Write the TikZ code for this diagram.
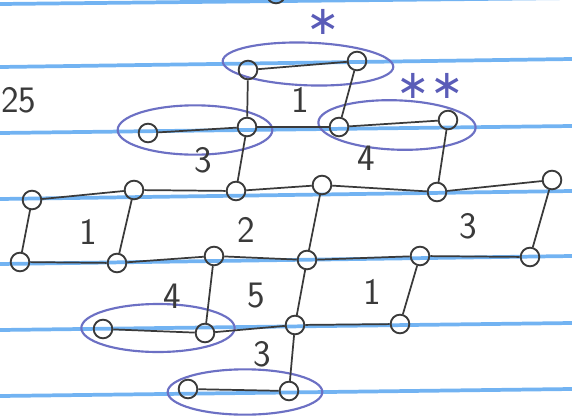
\documentclass[tikz,border=0pt]{standalone}
\usepackage{fontspec}
\newfontfamily\starfont{DejaVu Sans}
\usetikzlibrary{shapes.geometric}
\definecolor{ink}{HTML}{3A3A3A}
\definecolor{loop}{HTML}{6C70C4}
\definecolor{rule}{HTML}{5AA6F0}
\definecolor{star}{HTML}{5A5CB8}
\tikzset{
  vtx/.style={circle,draw=ink,line width=1.4pt,inner sep=0pt,minimum size=14pt},
  edge/.style={draw=ink,line width=1.3pt},
  ring/.style={ellipse,draw=loop,line width=1.6pt,inner sep=0pt},
  ruled/.style={draw=rule,line width=2.8pt,opacity=0.85},
  num/.style={text=ink,font=\sffamily\fontsize{28}{28}\selectfont,inner sep=0pt},
  starlbl/.style={text=star,font=\starfont\fontsize{30}{30}\selectfont,inner sep=0pt}
}
\begin{document}
\begin{tikzpicture}[x=0.75pt,y=-0.75pt]
\useasboundingbox (0,0) rectangle (572,415);
\clip (0,0) rectangle (572,415);
\fill[white] (0,0) rectangle (572,415);
% ruled lines
\draw[ruled] (0,4) -- (572,-2);
\draw[ruled] (0,67) -- (572,59);
\draw[ruled] (0,133) -- (572,126);
\draw[ruled] (0,199) -- (572,191);
\draw[ruled] (0,264) -- (572,256);
\draw[ruled] (0,330) -- (572,323);
\draw[ruled] (0,396) -- (572,389);
% rings
\node[ring,minimum width=128pt,minimum height=32pt,rotate=-2] (rs) at (308,64) {};
\node[ring,minimum width=116pt,minimum height=37pt] (rl) at (195,130) {};
\node[ring,minimum width=118pt,minimum height=37pt,rotate=-2] (rr) at (397,125) {};
\node[ring,minimum width=115pt,minimum height=36pt] (rf) at (158,328) {};
\node[ring,minimum width=116pt,minimum height=34pt] (rg) at (245,392) {};
% vertices
\node[vtx] (top) at (276,-6) {};
\node[vtx] (a1) at (248,70) {};
\node[vtx] (a2) at (357,61) {};
\node[vtx] (b1) at (148,133) {};
\node[vtx] (b2) at (247,127) {};
\node[vtx] (c1) at (339,127) {};
\node[vtx] (c2) at (448,120) {};
\node[vtx] (d1) at (32,200) {};
\node[vtx] (d2) at (134,190) {};
\node[vtx] (d3) at (236,191) {};
\node[vtx] (d4) at (322,185) {};
\node[vtx] (d5) at (437,192) {};
\node[vtx] (d6) at (552,180) {};
\node[vtx] (e1) at (20,262) {};
\node[vtx] (e2) at (117,263) {};
\node[vtx] (e3) at (214,256) {};
\node[vtx] (e4) at (307,260) {};
\node[vtx] (e5) at (420,256) {};
\node[vtx] (e6) at (530,257) {};
\node[vtx] (f1) at (103,329) {};
\node[vtx] (f2) at (205,333) {};
\node[vtx] (f3) at (295,325) {};
\node[vtx] (f4) at (400,324) {};
\node[vtx] (g1) at (188,389) {};
\node[vtx] (g2) at (289,391) {};
% edges
\draw[edge] (a1) -- (a2);
\draw[edge] (a1) -- (b2);
\draw[edge] (a2) -- (c1);
\draw[edge] (b1) -- (b2);
\draw[edge] (b2) -- (c1);
\draw[edge] (c1) -- (c2);
\draw[edge] (b2) -- (d3);
\draw[edge] (c2) -- (d5);
\draw[edge] (d1) -- (d2);
\draw[edge] (d2) -- (d3);
\draw[edge] (d3) -- (d4);
\draw[edge] (d4) -- (d5);
\draw[edge] (d5) -- (d6);
\draw[edge] (d1) -- (e1);
\draw[edge] (d2) -- (e2);
\draw[edge] (d4) -- (e4);
\draw[edge] (d6) -- (e6);
\draw[edge] (e1) -- (e2);
\draw[edge] (e2) -- (e3);
\draw[edge] (e3) -- (e4);
\draw[edge] (e4) -- (e5);
\draw[edge] (e5) -- (e6);
\draw[edge] (e3) -- (f2);
\draw[edge] (e4) -- (f3);
\draw[edge] (e5) -- (f4);
\draw[edge] (f1) -- (f2);
\draw[edge] (f2) -- (f3);
\draw[edge] (f3) -- (f4);
\draw[edge] (f3) -- (g2);
\draw[edge] (g1) -- (g2);
% labels
\node[num] (l1) at (300,100) {1};
\node[num] (l2) at (203,160) {3};
\node[num] (l3) at (366,158) {4};
\node[num] (l4) at (88,232) {1};
\node[num] (l5) at (246,230) {2};
\node[num] (l6) at (468,226) {3};
\node[num] (l7) at (172,296) {4};
\node[num] (l8) at (256,296) {5};
\node[num] (l9) at (372,292) {1};
\node[num] (l10) at (262,354) {3};
\node[num,anchor=west] (l11) at (1,100) {25};
\node[starlbl] (s1) at (323,22) {∗};
\node[starlbl] (s2) at (430,86) {∗∗};
\end{tikzpicture}
\end{document}
